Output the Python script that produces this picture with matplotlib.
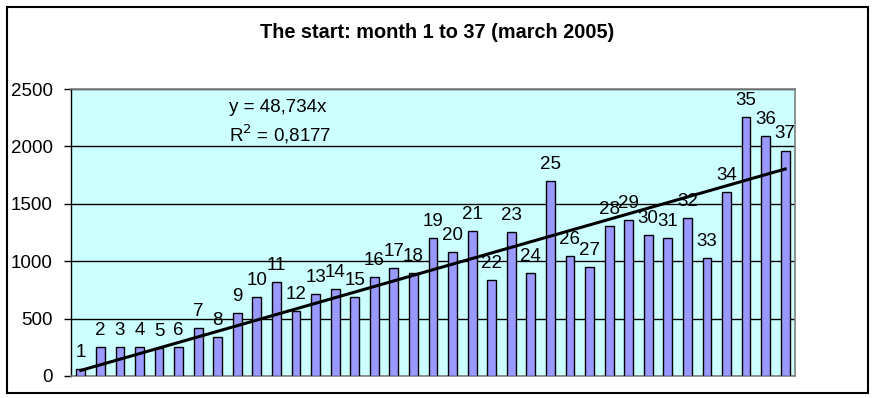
import matplotlib
matplotlib.use("Agg")
import matplotlib.pyplot as plt
from matplotlib.patches import Rectangle
import numpy as np

plt.rcParams['font.family'] = ['Liberation Sans', 'DejaVu Sans']

months = list(range(1, 38))
values = [58, 250, 250, 250, 245, 250, 416, 337, 547, 686, 820, 564,
          712, 756, 686, 860, 939, 895, 1200, 1078, 1262, 834, 1253, 895,
          1698, 1044, 948, 1305, 1358, 1227, 1200, 1375, 1026, 1602, 2256,
          2090, 1962]
slope = 48.734
title = "The start: month 1 to 37 (march 2005)"
eq_text = "y = 48,734x"
r2_text = "R$^2$ = 0,8177"
yticks = [0, 500, 1000, 1500, 2000, 2500]

W, H = 874, 398
FS = 13.5
fig = plt.figure(figsize=(W / 100, H / 100), dpi=100)
fig.patch.set_facecolor('white')
fig.patches.append(Rectangle((6.5 / W, 1 - 392.5 / H), 861 / W, 386 / H,
                             transform=fig.transFigure, fill=False,
                             edgecolor='black', linewidth=1.5))

ax = fig.add_axes([71 / W, 1 - 376 / H, (795 - 71) / W, (376 - 89) / H])
ax.set_facecolor('#CCFFFF')

x = np.array(months)
ax.bar(x, values, width=0.45, color='#9999FF', edgecolor='black',
       linewidth=1.0, zorder=3)

for m, v in zip(months, values):
    ax.annotate(str(m), (m, v), xytext=(0, 6), textcoords='offset points',
                ha='center', va='bottom', fontsize=FS, zorder=5)

xt = np.array([1, 37])
ax.plot(xt, slope * xt, color='black', linewidth=2.2, zorder=4)

fig.text(229 / W, 1 - 107 / H, eq_text, fontsize=FS, va='center',
         ha='left')
fig.text(229 / W, 1 - 134 / H, r2_text, fontsize=FS, va='center',
         ha='left')

ax.set_xlim(0.5, 37.5)
ax.set_ylim(0, 2500)
ax.set_yticks(yticks)
ax.set_yticklabels([str(t) for t in yticks], fontsize=FS)
ax.set_xticks([])
ax.yaxis.grid(True, color='black', linewidth=1.0, zorder=1)
ax.set_axisbelow(True)
ax.tick_params(axis='y', length=5, width=1, color='black', pad=8)
for s in ['top', 'right', 'bottom']:
    ax.spines[s].set_color('#808080')
    ax.spines[s].set_linewidth(1.2)
ax.spines['left'].set_color('black')
ax.spines['left'].set_linewidth(1.0)

fig.text(0.5 * (262 + 613) / W, 1 - 32 / H, title, ha='center',
         va='center', fontsize=14.3, fontweight='bold')

fig.savefig('out.png', dpi=100)
